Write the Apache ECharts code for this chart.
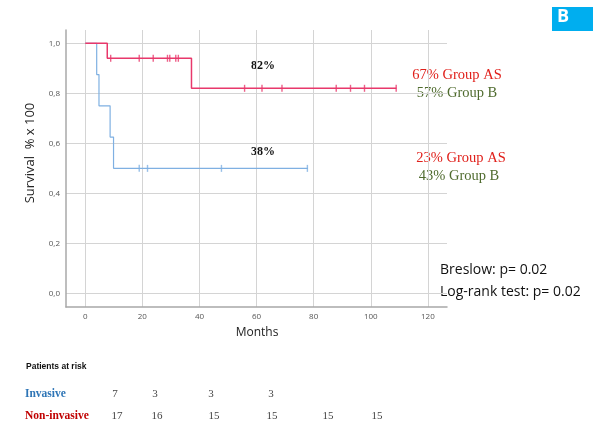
<!DOCTYPE html>
<html>
<head>
<meta charset="utf-8">
<script src="https://cdn.jsdelivr.net/npm/echarts@6/dist/echarts.min.js"></script>
<style>
  html, body { margin: 0; padding: 0; background: #ffffff; }
  #chart { width: 603px; height: 424px; }
</style>
</head>
<body>
<div id="chart"></div>
<script>
// Kaplan–Meier curves: step points [months, survival]
const nonInvasiveSteps = [[0, 1.0], [7.7, 0.94], [37.2, 0.82], [109, 0.82]];
const invasiveSteps = [[0, 1.0], [4.0, 0.875], [4.8, 0.75], [8.7, 0.625], [9.9, 0.5], [78, 0.5]];

// Censored observations (months)
const nonInvasiveCensored = [8.9, 18.9, 23.8, 28.8, 29.6, 31.7, 32.6, 55.8, 61.9, 68.9, 87.9, 92.9, 97.8, 108.9];
const invasiveCensored = [18.9, 21.8, 47.7, 77.8];

// Axis ticks
const xTicks = [0, 20, 40, 60, 80, 100, 120];
const yTicks = [0, 0.2, 0.4, 0.6, 0.8, 1.0];

// Numbers at risk
const riskInvasive = ['7', '3', '3', '3'];
const riskNonInvasive = ['17', '16', '15', '15', '15', '15'];

// Survival value at time t for a step curve
function survivalAt(steps, t) {
  let s = steps[0][1];
  for (const [x, y] of steps) { if (x <= t) s = y; }
  return s;
}

const RED = '#e8386b';
const BLUE = '#7fb0e2';

const chart = echarts.init(document.getElementById('chart'), null, { renderer: 'canvas' });

// column positions of the at-risk table
const riskColsInv = [115, 155, 211, 271];
const riskColsNon = [117, 157, 214, 272, 328, 377];

const graphics = [
  // panel badge
  { type: 'rect', left: 552, top: 7, shape: { width: 41, height: 24 }, style: { fill: '#00aeef' } },
  { type: 'text', left: 557, top: 8, style: { text: 'B', fill: '#ffffff', font: 'bold 18px "Open Sans", sans-serif' } },
  // y-axis title
  { type: 'text', x: 30, y: 153, rotation: Math.PI / 2,
    style: { text: 'Survival  % x 100', fill: '#222', font: '13px "Open Sans", sans-serif', align: 'center', verticalAlign: 'middle' } },
  // x-axis title
  { type: 'text', x: 257, y: 333, style: { text: 'Months', fill: '#222', font: '12px "Open Sans", sans-serif', align: 'center', verticalAlign: 'middle' } },
  // in-plot percentages
  { type: 'text', x: 263, y: 66, style: { text: '82%', fill: '#111', font: 'bold 12px "Liberation Serif", serif', align: 'center', verticalAlign: 'middle' } },
  { type: 'text', x: 263, y: 152, style: { text: '38%', fill: '#111', font: 'bold 12px "Liberation Serif", serif', align: 'center', verticalAlign: 'middle' } },
  // group comparison notes
  { type: 'text', x: 457, y: 75, style: { text: '67% Group AS', fill: '#e0201b', font: '14.5px "Liberation Serif", serif', align: 'center', verticalAlign: 'middle' } },
  { type: 'text', x: 457, y: 93, style: { text: '57% Group B', fill: '#4f6b2e', font: '14.5px "Liberation Serif", serif', align: 'center', verticalAlign: 'middle' } },
  { type: 'text', x: 461, y: 158, style: { text: '23% Group AS', fill: '#e0201b', font: '14.5px "Liberation Serif", serif', align: 'center', verticalAlign: 'middle' } },
  { type: 'text', x: 459, y: 176, style: { text: '43% Group B', fill: '#4f6b2e', font: '14.5px "Liberation Serif", serif', align: 'center', verticalAlign: 'middle' } },
  // test statistics
  { type: 'text', x: 440, y: 270, style: { text: 'Breslow: p= 0.02', fill: '#111', font: '14px "Open Sans", sans-serif', verticalAlign: 'middle' } },
  { type: 'text', x: 440, y: 292, style: { text: 'Log-rank test: p= 0.02', fill: '#111', font: '14px "Open Sans", sans-serif', verticalAlign: 'middle' } },
  // at-risk table
  { type: 'text', x: 26, y: 367, style: { text: 'Patients at risk', fill: '#111', font: 'bold 8.5px "Liberation Sans", sans-serif', verticalAlign: 'middle' } },
  { type: 'text', x: 25, y: 394, style: { text: 'Invasive', fill: '#2e75b6', font: 'bold 11.5px "Liberation Serif", serif', verticalAlign: 'middle' } },
  { type: 'text', x: 25, y: 416, style: { text: 'Non-invasive', fill: '#c00000', font: 'bold 11.5px "Liberation Serif", serif', verticalAlign: 'middle' } }
];
riskInvasive.forEach((v, i) => graphics.push({ type: 'text', x: riskColsInv[i], y: 394,
  style: { text: v, fill: '#444', font: '11px "Liberation Serif", serif', align: 'center', verticalAlign: 'middle' } }));
riskNonInvasive.forEach((v, i) => graphics.push({ type: 'text', x: riskColsNon[i], y: 416,
  style: { text: v, fill: '#444', font: '11px "Liberation Serif", serif', align: 'center', verticalAlign: 'middle' } }));

const censorSymbol = { symbol: 'rect', symbolSize: [1.4, 7] };

chart.setOption({
  backgroundColor: '#ffffff',
  animation: false,
  grid: { left: 66, top: 30, right: 156, bottom: 117, containLabel: false },
  xAxis: {
    type: 'value', min: -6.75, max: 126.7,
    axisLine: { show: true, onZero: false, lineStyle: { color: '#a8a8a8', width: 1.5 } },
    axisTick: { show: false, customValues: xTicks },
    axisLabel: { customValues: xTicks, color: '#555', fontSize: 8, fontFamily: '"Open Sans", sans-serif', margin: 6 },
    splitLine: { show: true, lineStyle: { color: '#d4d4d4', width: 1 } }
  },
  yAxis: {
    type: 'value', min: -0.054, max: 1.053,
    axisLine: { show: true, onZero: false, lineStyle: { color: '#a8a8a8', width: 1.5 } },
    axisTick: { show: false, customValues: yTicks },
    axisLabel: { customValues: yTicks, color: '#555', fontSize: 8, fontFamily: '"Open Sans", sans-serif', margin: 6,
      formatter: v => v.toFixed(1).replace('.', ',') },
    splitLine: { show: true, lineStyle: { color: '#d4d4d4', width: 1 } }
  },
  graphic: graphics,
  series: [
    { name: 'Non-invasive', type: 'line', step: 'end', data: nonInvasiveSteps, showSymbol: false,
      lineStyle: { color: RED, width: 1.5 }, z: 3 },
    { name: 'Invasive', type: 'line', step: 'end', data: invasiveSteps, showSymbol: false,
      lineStyle: { color: BLUE, width: 1.2 }, z: 2 },
    { name: 'Non-invasive censored', type: 'scatter', ...censorSymbol, itemStyle: { color: RED }, z: 4,
      data: nonInvasiveCensored.map(t => [t, survivalAt(nonInvasiveSteps, t)]) },
    { name: 'Invasive censored', type: 'scatter', ...censorSymbol, itemStyle: { color: BLUE }, z: 4,
      data: invasiveCensored.map(t => [t, survivalAt(invasiveSteps, t)]) }
  ]
});
</script>
</body>
</html>
